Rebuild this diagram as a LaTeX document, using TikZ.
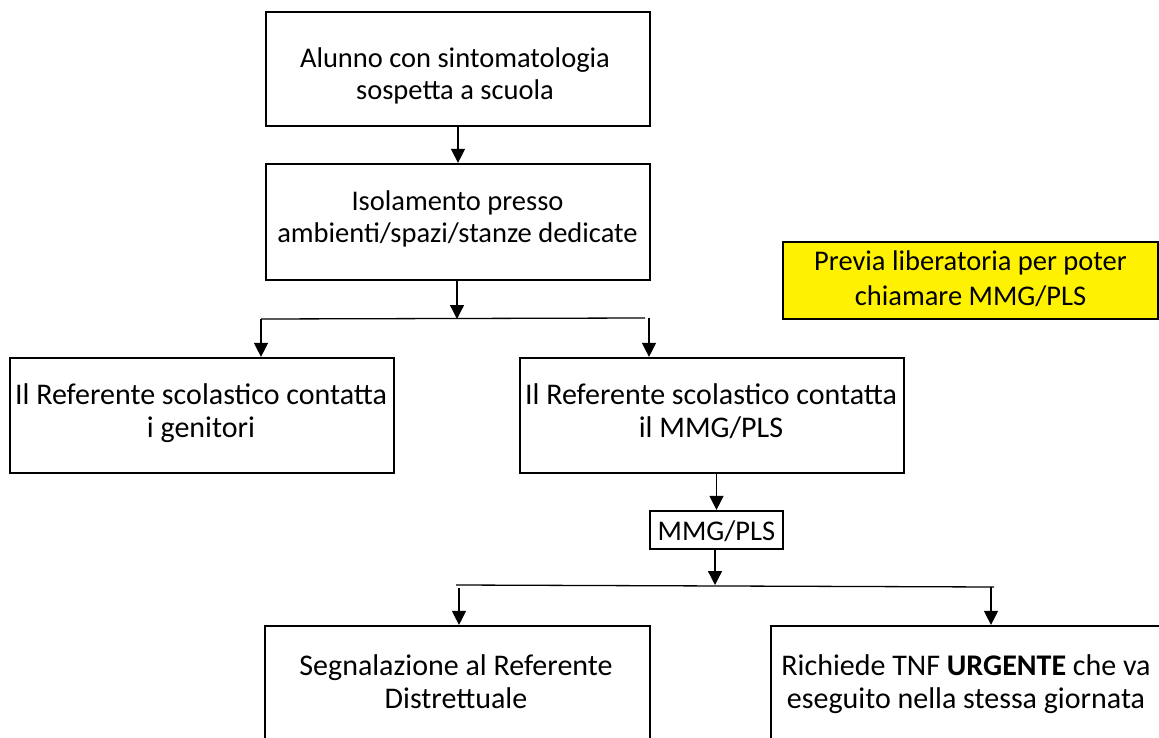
\documentclass[tikz,border=0pt]{standalone}
\usepackage{fontspec}
\setmainfont{Carlito}
\usetikzlibrary{arrows.meta}
\tikzset{
  box/.style={draw=black, line width=2.2pt, inner sep=0pt},
  note/.style={draw=black, line width=1.8pt, fill=yellow, inner sep=0pt},
  lbl/.style={align=center, anchor=base, inner sep=0pt, font=\fontsize{28.5}{32}\selectfont},
  lblbig/.style={lbl, font=\fontsize{30}{33}\selectfont},
  lblnote/.style={lbl, font=\fontsize{28.5}{35}\selectfont},
  arr/.style={line width=1.3pt, -{Triangle[width=14pt,length=14pt]}},
  ln/.style={line width=1.3pt}
}
\begin{document}
\begin{tikzpicture}[x=1pt,y=-1pt]
\useasboundingbox (0,0) rectangle (1159,738);
\clip (0,0) rectangle (1159,738);
% boxes
\node[box, minimum width=384pt, minimum height=114pt] (b1) at (458,69) {};
\node[box, minimum width=384pt, minimum height=116pt] (b2) at (458,222) {};
\node[box, minimum width=384pt, minimum height=115pt] (b3) at (202,415.5) {};
\node[box, minimum width=384pt, minimum height=115pt] (b4) at (712,415.5) {};
\node[box, minimum width=133pt, minimum height=38pt] (mmg) at (716.5,530) {};
\node[box, minimum width=385pt, minimum height=200pt] (b5) at (457.5,726) {};
\node[box, minimum width=394pt, minimum height=200pt] (b6) at (968,726) {};
\node[note, minimum width=375pt, minimum height=77pt] (yel) at (970.5,280.5) {};
% texts
\node[lbl] (t1) at (455,100) {Alunno con sintomatologia\\sospetta a scuola};
\node[lbl] (t2) at (457.5,242) {Isolamento presso\\ambienti/spazi/stanze dedicate};
\node[lblbig] (t3) at (201,437) {Il Referente scolastico contatta\\i genitori};
\node[lblbig] (t4) at (711,437) {Il Referente scolastico contatta\\il MMG/PLS};
\node[lbl] (t5) at (716.5,540) {MMG/PLS};
\node[lblbig] (t6) at (456,708) {Segnalazione al Referente\\Distrettuale};
\node[lblbig] (t7) at (966,708) {Richiede TNF \textbf{URGENTE} che va\\eseguito nella stessa giornata};
\node[lblnote] (t8) at (970.5,305) {Previa liberatoria per poter\\chiamare MMG/PLS};
% junction coordinates
\coordinate (j1) at (457,319);
\coordinate (jL) at (261,319);
\coordinate (jR) at (645,318);
\coordinate (jR2) at (649,318);
\coordinate (j2) at (715,585);
\coordinate (kL) at (456,585);
\coordinate (kL2) at (459,588);
\coordinate (kR) at (994,587);
\coordinate (kR2) at (991,587);
% connectors
\draw[arr] (b1) -- (b2);
\draw[arr] (b2.south -| j1) -- (j1);
\draw[ln] (jL) -- (jR);
\draw[arr] (jL) -- (jL |- b3.north);
\draw[arr] (jR2) -- (jR2 |- b4.north);
\draw[arr] (mmg.north |- b4.south) -- (mmg.north);
\draw[arr] (mmg.south -| j2) -- (j2);
\draw[ln] (kL) -- (kR);
\draw[arr] (kL2) -- (kL2 |- b5.north);
\draw[arr] (kR2) -- (kR2 |- b6.north);
\end{tikzpicture}
\end{document}
